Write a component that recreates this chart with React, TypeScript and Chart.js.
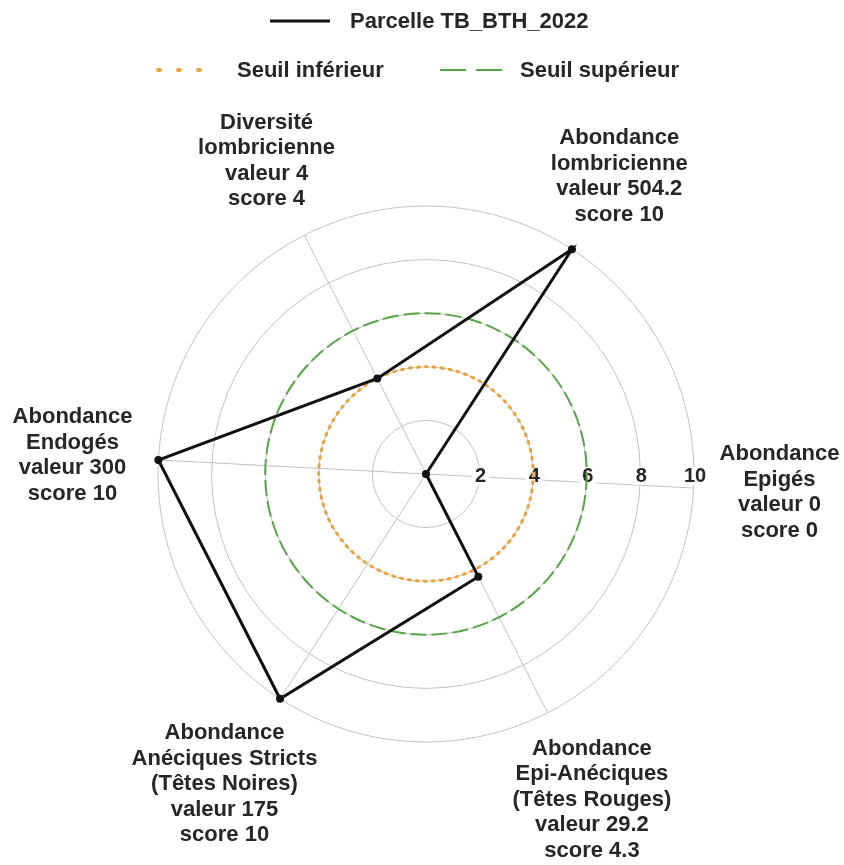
import React, { useEffect, useRef } from 'react';
import { Chart, registerables } from 'chart.js';

Chart.register(...registerables);

// ---- Data ----
const axisLabels: string[][] = [
  ['Abondance', 'Epigés', 'valeur 0', 'score 0'],
  ['Abondance', 'Epi-Anéciques', '(Têtes Rouges)', 'valeur 29.2', 'score 4.3'],
  ['Abondance', 'Anéciques Stricts', '(Têtes Noires)', 'valeur 175', 'score 10'],
  ['Abondance', 'Endogés', 'valeur 300', 'score 10'],
  ['Diversité', 'lombricienne', 'valeur 4', 'score 4'],
  ['Abondance', 'lombricienne', 'valeur 504.2', 'score 10'],
];
const parcelleScores = [0, 4.3, 10, 10, 4, 10];
const seuilInferieur = [4, 4, 4, 4, 4, 4];
const seuilSuperieur = [6, 6, 6, 6, 6, 6];
const tickValues = [2, 4, 6, 8, 10];
const seriesNames = ['Parcelle TB_BTH_2022', 'Seuil inférieur', 'Seuil supérieur'];

// ---- Styles ----
const FONT_FAMILY = '"Liberation Sans", Arial, Helvetica, sans-serif';
const TEXT_COLOR = '#262626';
const BLACK = '#111111';
const ORANGE = '#EBA23C';
const GREEN = '#55A646';
const GRID = '#c2c2c2';

const radarDecor = {
  id: 'radarDecor',
  beforeDatasetsDraw(chart: any) {
    const scale = chart.scales.r;
    const c: CanvasRenderingContext2D = chart.ctx;
    c.save();
    // tick labels, horizontal to the right of the centre
    c.font = `bold 20px ${FONT_FAMILY}`;
    c.textAlign = 'center';
    c.textBaseline = 'middle';
    tickValues.forEach((v) => {
      const x = scale.xCenter + scale.getDistanceFromCenterForValue(v) + 1;
      const y = scale.yCenter + 2;
      const t = String(v);
      const w = c.measureText(t).width;
      c.fillStyle = '#ffffff';
      c.fillRect(x - w / 2 - 3, y - 9, w + 6, 18);
      c.fillStyle = TEXT_COLOR;
      c.fillText(t, x, y);
    });
    // threshold circles
    chart.data.datasets.forEach((ds: any) => {
      if (!ds.circleStyle) return;
      const st = ds.circleStyle;
      const r = scale.getDistanceFromCenterForValue(ds.data[0]);
      c.beginPath();
      c.setLineDash(st.dash);
      c.lineCap = st.cap;
      c.lineWidth = st.width;
      c.strokeStyle = st.color;
      c.arc(scale.xCenter, scale.yCenter, r, 0, Math.PI * 2);
      c.stroke();
    });
    c.restore();
  },
  afterDatasetsDraw(chart: any) {
    const scale = chart.scales.r;
    const c: CanvasRenderingContext2D = chart.ctx;
    const R = scale.drawingArea;
    const lineH = 25.5;
    const gap = 26;
    c.save();
    c.font = `bold 22px ${FONT_FAMILY}`;
    c.textAlign = 'center';
    c.textBaseline = 'middle';
    c.fillStyle = TEXT_COLOR;
    (chart.data.labels as string[][]).forEach((lines, i) => {
      const w = Math.max(...lines.map((l) => c.measureText(l).width));
      const h = lines.length * lineH;
      const a = scale.getIndexAngle(i) - Math.PI / 2;
      const dx = Math.abs(Math.cos(a));
      const dy = Math.abs(Math.sin(a));
      const exit = Math.min(dx > 1e-6 ? w / 2 / dx : 1e9, dy > 1e-6 ? h / 2 / dy : 1e9);
      const p = scale.getPointPosition(i, R + gap + exit);
      lines.forEach((l, k) => {
        c.fillText(l, p.x, p.y - h / 2 + lineH * (k + 0.5));
      });
    });
    c.restore();
  },
};

const LegendLine = ({ x1, x2, y, color, width, dash, cap }: any) => (
  <svg
    style={{ position: 'absolute', left: x1 - 4, top: y - 6, overflow: 'visible' }}
    width={x2 - x1 + 8}
    height={12}
  >
    <line
      x1={4}
      x2={x2 - x1 + 4}
      y1={6}
      y2={6}
      stroke={color}
      strokeWidth={width}
      strokeDasharray={dash}
      strokeLinecap={cap}
    />
  </svg>
);

const LegendText = ({ x, y, text }: any) => (
  <div
    style={{
      position: 'absolute',
      left: x,
      top: y - 13,
      height: 26,
      lineHeight: '26px',
      font: `bold 22px ${FONT_FAMILY}`,
      color: TEXT_COLOR,
      whiteSpace: 'nowrap',
    }}
  >
    {text}
  </div>
);

export default function App() {
  const ref = useRef<HTMLCanvasElement>(null);

  useEffect(() => {
    if (!ref.current) return;
    const chart = new Chart(ref.current, {
      type: 'radar',
      data: {
        labels: axisLabels,
        datasets: [
          {
            label: seriesNames[0],
            data: parcelleScores,
            borderColor: BLACK,
            backgroundColor: BLACK,
            borderWidth: 3,
            pointRadius: 4,
            pointBackgroundColor: BLACK,
            pointBorderColor: BLACK,
            pointBorderWidth: 0,
            fill: false,
          },
          {
            label: seriesNames[1],
            data: seuilInferieur,
            borderColor: ORANGE,
            borderWidth: 0,
            pointRadius: 0,
            fill: false,
            circleStyle: { color: ORANGE, width: 3, dash: [2, 6], cap: 'round' },
          } as any,
          {
            label: seriesNames[2],
            data: seuilSuperieur,
            borderColor: GREEN,
            borderWidth: 0,
            pointRadius: 0,
            fill: false,
            circleStyle: { color: GREEN, width: 2, dash: [16, 5], cap: 'butt' },
          } as any,
        ],
      },
      options: {
        animation: false,
        responsive: false,
        maintainAspectRatio: false,
        layout: { padding: { left: 158, right: 150, top: 206, bottom: 123 } },
        plugins: {
          legend: { display: false },
          tooltip: { enabled: false },
        },
        elements: { line: { tension: 0 } },
        scales: {
          r: {
            min: 0,
            max: 10,
            startAngle: 93,
            ticks: { display: false, stepSize: 2 },
            grid: { circular: true, color: GRID, lineWidth: 1 },
            angleLines: { display: true, color: GRID, lineWidth: 1 },
            pointLabels: { display: false },
          },
        },
      },
      plugins: [radarDecor],
    });
    return () => chart.destroy();
  }, []);

  return (
    <div style={{ position: 'fixed', left: 0, top: 0, width: 844, height: 865, background: '#ffffff' }}>
      <canvas ref={ref} width={844} height={865} style={{ position: 'absolute', left: 0, top: 0 }} />
      <LegendLine x1={270} x2={330} y={21} color={BLACK} width={3} />
      <LegendText x={350} y={21} text={seriesNames[0]} />
      <LegendLine x1={158} x2={210} y={70} color={ORANGE} width={4} dash="2 18" cap="round" />
      <LegendText x={237} y={70} text={seriesNames[1]} />
      <LegendLine x1={440} x2={502} y={70} color={GREEN} width={2} dash="26 10" />
      <LegendText x={520} y={70} text={seriesNames[2]} />
    </div>
  );
}
